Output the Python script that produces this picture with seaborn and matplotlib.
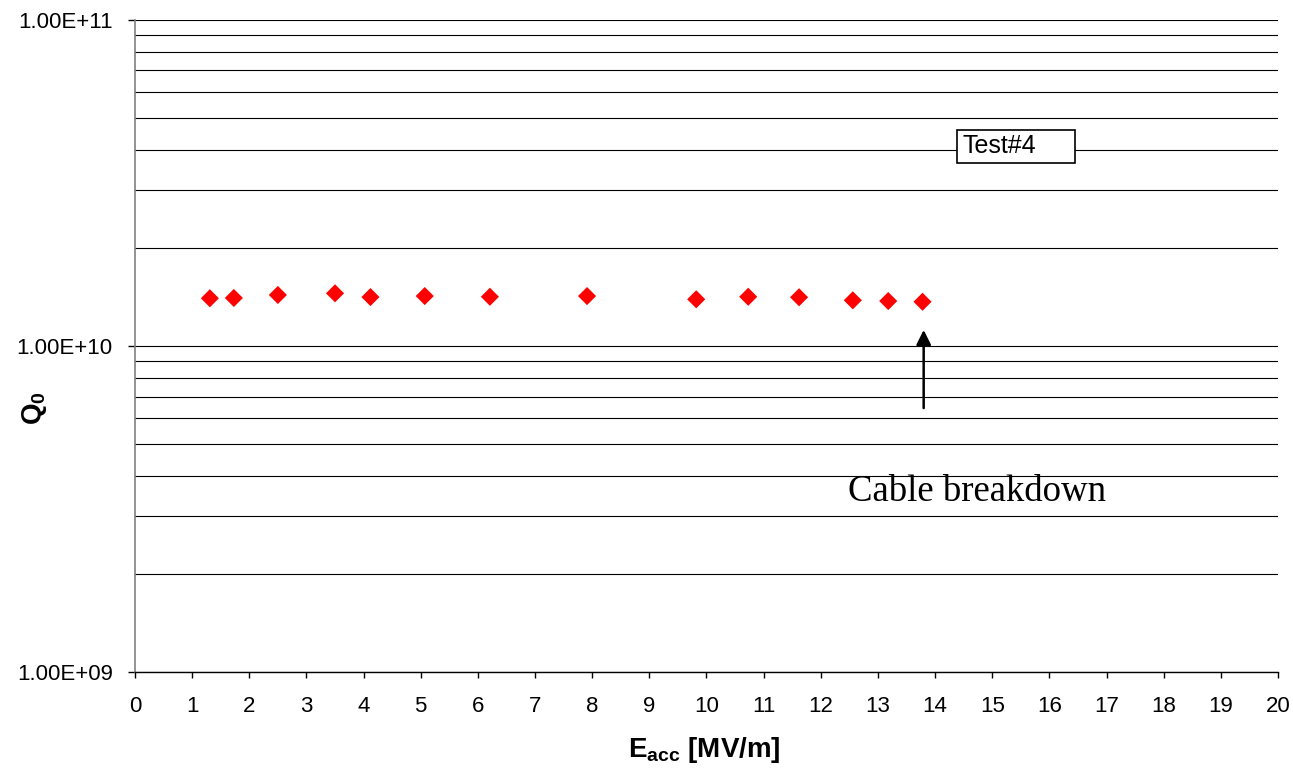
import matplotlib
matplotlib.use("Agg")
import matplotlib.pyplot as plt
import matplotlib.patches as mpatches
import seaborn as sns
import pandas as pd
import numpy as np
from matplotlib.ticker import LogLocator, NullFormatter

sns.set_style("white")
plt.rcParams['font.family'] = ['Liberation Sans', 'DejaVu Sans']
plt.rcParams['mathtext.fontset'] = 'custom'
plt.rcParams['mathtext.rm'] = 'Liberation Sans'
plt.rcParams['mathtext.bf'] = 'Liberation Sans:bold'
plt.rcParams['text.color'] = 'black'
plt.rcParams['axes.labelcolor'] = 'black'
plt.rcParams['xtick.color'] = 'black'
plt.rcParams['ytick.color'] = 'black'

# Data
e_acc = [1.31, 1.73, 2.50, 3.50, 4.12, 5.07, 6.21, 7.91, 9.82, 10.73, 11.62, 12.56, 13.18, 13.78]
q0 = [1.401e10, 1.404e10, 1.434e10, 1.451e10, 1.413e10, 1.423e10, 1.416e10, 1.423e10,
      1.391e10, 1.416e10, 1.411e10, 1.381e10, 1.374e10, 1.367e10]
x_ticks = list(range(0, 21))
y_ticks = [1e9, 1e10, 1e11]
y_tick_labels = ["1.00E+09", "1.00E+10", "1.00E+11"]

df = pd.DataFrame({"Eacc": e_acc, "Q0": q0})

fig = plt.figure(figsize=(12.93, 7.69), dpi=100)
ax = fig.add_axes([0.1044, 0.1261, 0.8840, 0.8479])

ax.set_yscale("log")
ax.set_xlim(0, 20)
ax.set_ylim(1e9, 1e11)

ax.yaxis.set_minor_locator(LogLocator(base=10, subs=np.arange(2, 10)))
ax.yaxis.set_minor_formatter(NullFormatter())
ax.grid(True, which="both", axis="y", color="black", linewidth=0.8)
ax.grid(False, axis="x")
ax.set_axisbelow(True)

sns.scatterplot(data=df, x="Eacc", y="Q0", ax=ax, marker="D", color="#ff0000",
                s=85, edgecolor="none", zorder=3, legend=False)

ax.set_xticks(x_ticks)
ax.set_xticklabels([str(t) for t in x_ticks])
ax.set_yticks(y_ticks)
ax.set_yticklabels(y_tick_labels)
ax.tick_params(axis="x", which="major", labelsize=16, direction="out", bottom=True,
               length=4, width=1, color="black", pad=13)
ax.tick_params(axis="y", which="major", labelsize=16, direction="out", left=True,
               length=5, width=1, color="black", pad=11)
ax.tick_params(axis="y", which="minor", length=0, left=False)

for s in ["top", "right"]:
    ax.spines[s].set_visible(False)
ax.spines["left"].set_color("#808080")
ax.spines["left"].set_linewidth(1.2)
ax.spines["bottom"].set_color("black")
ax.spines["bottom"].set_linewidth(1.0)

ax.set_xlabel(r"E$_{\mathbf{acc}}$ [MV/m]", fontsize=20, fontweight="bold")
ax.xaxis.set_label_coords(0.4977, -0.1196)
ax.xaxis.label.set_va("center")
ax.set_ylabel(r"Q$_{\mathbf{0}}$", fontsize=20, fontweight="bold")
ax.yaxis.set_label_coords(-0.0875, 0.405)
ax.yaxis.label.set_va("center")

# annotations
ax.add_patch(mpatches.Rectangle((0.7192, 0.7807), 0.1032, 0.0506, transform=ax.transAxes,
                                facecolor="white", edgecolor="black", linewidth=1.2, zorder=5))
ax.text(0.7236, 0.8067, "Test#4", transform=ax.transAxes, fontsize=18,
        ha="left", va="center", zorder=6)
ax.annotate("", xy=(13.8, 1.12e10), xytext=(13.8, 6.45e9),
            arrowprops=dict(arrowstyle="-|>", color="black", lw=1.8, mutation_scale=22,
                            shrinkA=0, shrinkB=0),
            zorder=5)
ax.text(14.73, 3.57e9, "Cable breakdown", fontsize=26.5, family="Liberation Serif",
        ha="center", va="center", zorder=5)

fig.savefig("out.png", dpi=100)
